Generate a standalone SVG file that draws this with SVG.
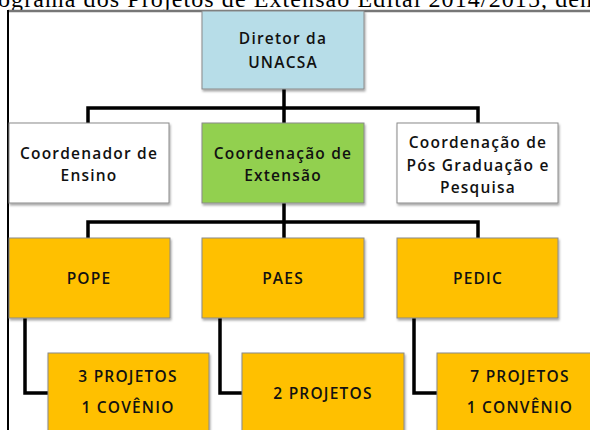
<svg xmlns="http://www.w3.org/2000/svg" width="590" height="430" viewBox="0 0 590 430">
<defs>
<filter id="sh" x="-10%" y="-10%" width="120%" height="130%">
<feDropShadow dx="1" dy="2" stdDeviation="1.2" flood-color="#000" flood-opacity="0.35"/>
</filter>
<style>
.box{stroke:#8a8a8a;stroke-width:1;filter:url(#sh)}
.white{fill:#ffffff}
.blue{fill:#b7dde8}
.green{fill:#92d050}
.yellow{fill:#ffc000}
.t{font-family:"Open Sans","Liberation Sans",sans-serif;font-size:15.5px;font-weight:600;fill:#111;text-anchor:middle;letter-spacing:1.2px}
.cap{font-family:"Liberation Serif",serif;font-size:24px;fill:#000}
.con{fill:none;stroke:#000;stroke-width:3.5}
</style>
</defs>
<rect width="590" height="430" fill="#fff"/>
<text class="cap" x="-2" y="7" textLength="594" lengthAdjust="spacing">ograma dos Projetos de Extensão Edital 2014/2015, den</text>
<g id="frame">
<line x1="8" y1="11" x2="590" y2="11" stroke="#777" stroke-width="2.5"/>
<line x1="8" y1="10" x2="8" y2="430" stroke="#000" stroke-width="2"/>
</g>
<g id="connectors">
<polyline class="con" points="284,89 284,123"/>
<polyline class="con" points="88,123 88,108 478,108 478,123"/>
<polyline class="con" points="284,203 284,238"/>
<polyline class="con" points="88,238 88,222 478,222 478,238"/>
<polyline class="con" points="25,318 25,393 48,393"/>
<polyline class="con" points="220,318 220,393 242,393"/>
<polyline class="con" points="414,318 414,393 437,393"/>
</g>
<g id="diretor">
<rect class="box blue" x="202" y="11" width="162" height="78"/>
<text class="t" x="283" y="44">Diretor da</text>
<text class="t" x="283" y="68">UNACSA</text>
</g>
<g id="coord-ensino">
<rect class="box white" x="9" y="123" width="160" height="80"/>
<text class="t" x="89" y="159">Coordenador  de</text>
<text class="t" x="89" y="181">Ensino</text>
</g>
<g id="coord-extensao">
<rect class="box green" x="202" y="123" width="162" height="80"/>
<text class="t" x="283" y="159">Coordenação de</text>
<text class="t" x="283" y="181">Extensão</text>
</g>
<g id="coord-pos">
<rect class="box white" x="397" y="123" width="161" height="80"/>
<text class="t" x="478" y="148">Coordenação de</text>
<text class="t" x="478" y="171">Pós Graduação e</text>
<text class="t" x="478" y="193">Pesquisa</text>
</g>
<g id="pope">
<rect class="box yellow" x="9" y="238" width="161" height="80"/>
<text class="t" x="89" y="284">POPE</text>
</g>
<g id="paes">
<rect class="box yellow" x="202" y="238" width="162" height="80"/>
<text class="t" x="283" y="284">PAES</text>
</g>
<g id="pedic">
<rect class="box yellow" x="397" y="238" width="161" height="80"/>
<text class="t" x="478" y="284">PEDIC</text>
</g>
<g id="pope-res">
<rect class="box yellow" x="48" y="353" width="161" height="90"/>
<text class="t" x="128" y="382">3 PROJETOS</text>
<text class="t" x="128" y="413">1 COVÊNIO</text>
</g>
<g id="paes-res">
<rect class="box yellow" x="242" y="353" width="162" height="90"/>
<text class="t" x="323" y="399">2 PROJETOS</text>
</g>
<g id="pedic-res">
<rect class="box yellow" x="437" y="353" width="165" height="90"/>
<text class="t" x="520" y="382">7 PROJETOS</text>
<text class="t" x="520" y="413">1 CONVÊNIO</text>
</g>
</svg>
